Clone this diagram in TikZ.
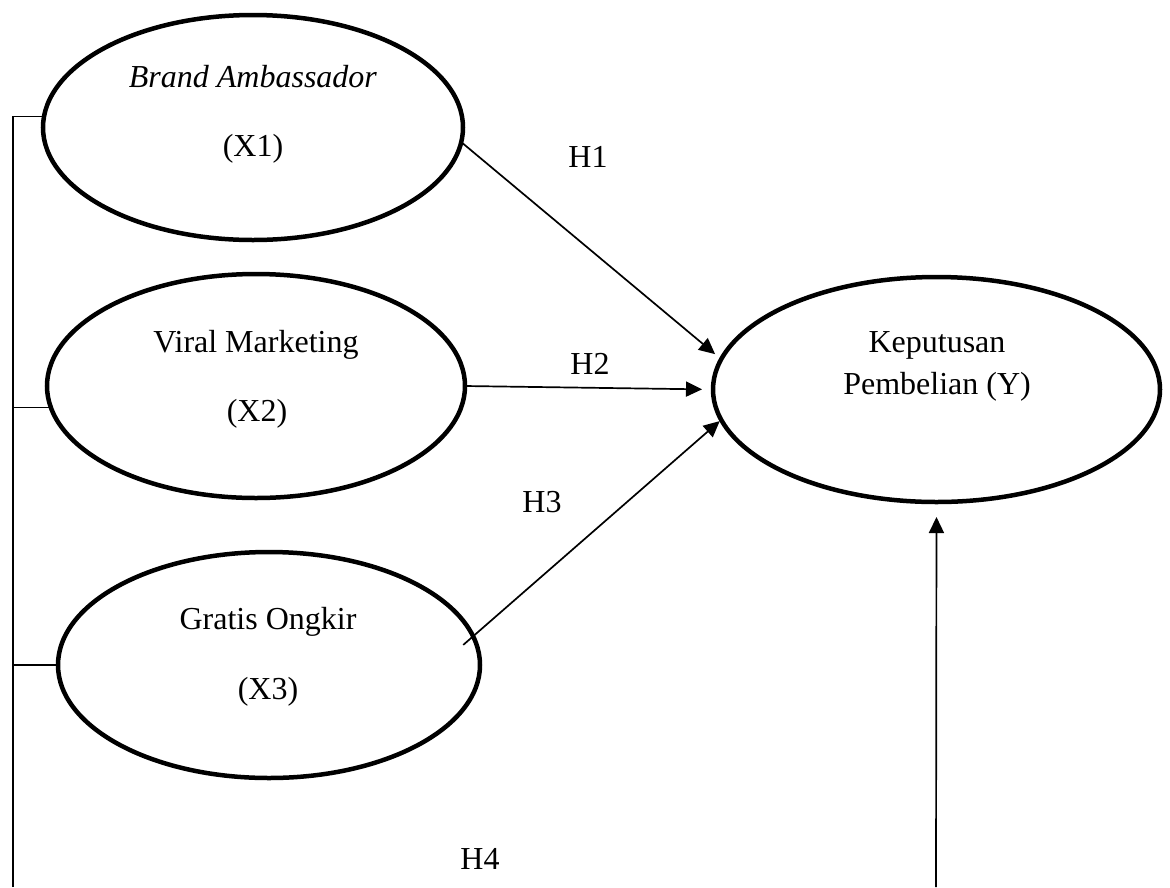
\documentclass[tikz,border=0pt]{standalone}
\usepackage{fontspec}
\setmainfont{Liberation Serif}
\usetikzlibrary{shapes.geometric,arrows.meta}
\begin{document}
\begin{tikzpicture}[x=1pt,y=-1pt,
  ell/.style={ellipse,draw=black,line width=4.5pt,inner sep=0pt,outer sep=0pt},
  lbl/.style={anchor=base,inner sep=0pt,font=\fontsize{32}{38}\selectfont},
  conn/.style={line width=1.7pt},
  arr/.style={line width=1.7pt,-{Triangle[length=16pt,width=15pt]}}]
\useasboundingbox[fill=white] (0,0) rectangle (1170,887);
% ellipses
\node[ell,minimum width=420pt,minimum height=225pt] (X1) at (253,127.5) {};
\node[ell,minimum width=418pt,minimum height=224pt] (X2) at (256,386) {};
\node[ell,minimum width=422pt,minimum height=226pt] (X3) at (269,665) {};
\node[ell,minimum width=447pt,minimum height=225pt] (Y) at (936.5,389.5) {};
% texts
\node[lbl] (t1a) at (253,87) {\textit{Brand Ambassador}};
\node[lbl] (t1b) at (253,156) {(X1)};
\node[lbl] (t2a) at (256,352) {Viral Marketing};
\node[lbl] (t2b) at (257,421) {(X2)};
\node[lbl] (t3a) at (268,629) {Gratis Ongkir};
\node[lbl] (t3b) at (268,699) {(X3)};
\node[lbl] (tya) at (937,352) {Keputusan};
\node[lbl] (tyb) at (937,394) {Pembelian (Y)};
% hypothesis labels
\node[lbl] (h1) at (588,167) {H1};
\node[lbl] (h2) at (590,374) {H2};
\node[lbl] (h3) at (542,512) {H3};
\node[lbl] (h4) at (480,869) {H4};
% free ends
\coordinate (Lb) at (13,887);
\coordinate (Rb) at (936,887);
% left bracket line
\draw[conn] (Lb) |- (X1.177.5);
\draw[conn] (X2.186.7 -| Lb) -- (X2.186.7);
\draw[conn] (X3.west -| Lb) -- (X3.west);
% arrows
\draw[arr,shorten >=8pt] (X1.-4.6) -- (Y.172.4);
\draw[arr,shorten >=11pt] (X2.east) -- (Y.west);
\draw[arr,shorten <=-13pt,shorten >=2pt] (X3.8) -- (Y.188.6);
\draw[arr,shorten >=15pt] (Rb) -- (Y.south);
\end{tikzpicture}
\end{document}
